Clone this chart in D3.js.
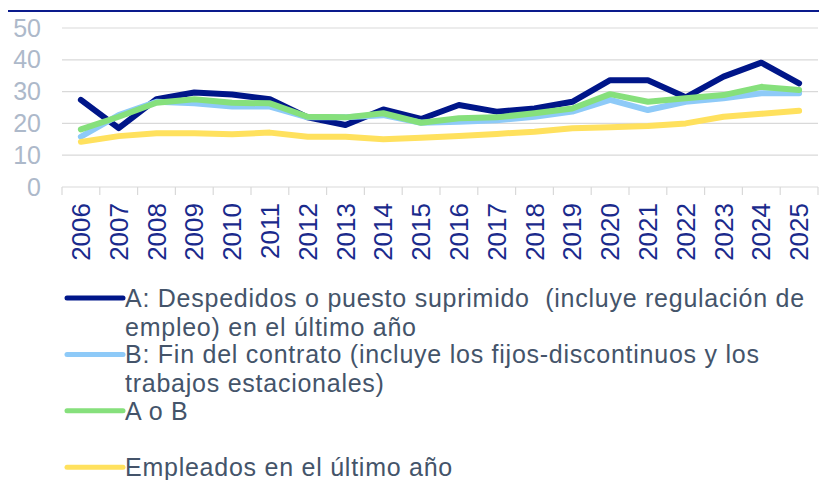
<!DOCTYPE html>
<html>
<head>
<meta charset="utf-8">
<script src="https://cdn.jsdelivr.net/npm/d3@7"></script>
<style>
	body { margin: 0; background: #fff; }
	text { font-family: 'Liberation Sans', Arial, sans-serif; }
</style>
</head>
<body>
<div id="linechart"></div>
<script>
var years = ['2006', '2007', '2008', '2009', '2010', '2011', '2012', '2013', '2014', '2015',
	'2016', '2017', '2018', '2019', '2020', '2021', '2022', '2023', '2024', '2025'];

var despedidos = [27.4, 18.5, 27.6, 29.7, 29.1, 27.6, 21.9, 19.5, 24.4, 21.4,
	25.8, 23.7, 24.7, 26.8, 33.6, 33.6, 28.2, 34.7, 39.1, 32.6];
var finContrato = [15.8, 22.6, 26.8, 26.3, 25.3, 25.3, 21.9, 21.9, 22.6, 20.2,
	20.5, 21.0, 22.1, 23.7, 27.4, 24.2, 26.8, 27.9, 29.5, 29.5];
var aoB = [18.1, 22.1, 26.5, 27.6, 26.5, 26.3, 22.1, 21.9, 23.2, 20.2,
	21.6, 21.9, 23.2, 24.7, 29.2, 26.8, 27.9, 28.9, 31.5, 30.5];
var empleados = [14.2, 16.0, 16.9, 16.9, 16.6, 17.1, 15.8, 15.8, 15.0, 15.5,
	16.0, 16.7, 17.4, 18.5, 18.8, 19.2, 20.0, 22.1, 23.0, 24.0];

var yTicks = [0, 10, 20, 30, 40, 50];

var seriesNames = [
	'A: Despedidos o puesto suprimido  (incluye regulación de empleo) en el último año',
	'B: Fin del contrato (incluye los fijos-discontinuos y los trabajos estacionales)',
	'A o B',
	'Empleados en el último año'
];
var seriesValues = [despedidos, finContrato, aoB, empleados];

var color = d3.scaleOrdinal()
	.domain(seriesNames)
	.range(['#001689', '#8ecaf8', '#86e07c', '#ffe15e']);

var svg = d3.select('#linechart').append('svg').attr('width', 819).attr('height', 480);

// top rule
svg.append('line')
	.attr('x1', 8).attr('x2', 819)
	.attr('y1', 11).attr('y2', 11)
	.attr('stroke', '#0a1a8c')
	.attr('stroke-width', 2);

var xScale = d3.scaleBand()
	.domain(years)
	.range([62, 818]);

var yScale = d3.scaleLinear()
	.domain([0, 50])
	.range([187, 28]);

// gridlines
svg.append('g')
	.selectAll('line')
	.data(yTicks.slice(1))
	.enter().append('line')
	.attr('x1', 62).attr('x2', 818)
	.attr('y1', function(d) { return yScale(d); })
	.attr('y2', function(d) { return yScale(d); })
	.attr('stroke', '#d9d9d9')
	.attr('stroke-width', 1.2);

var yAxis = d3.axisLeft(yScale).tickValues(yTicks).tickSize(0).tickPadding(0);
var yAxisG = svg.append('g')
	.attr('transform', 'translate(41,0)')
	.call(yAxis);
yAxisG.select('.domain').remove();
yAxisG.selectAll('text')
	.attr('font-size', 25)
	.attr('fill', '#adb9ca')
	.style('font-family', "'Liberation Sans', Arial, sans-serif");

// x axis: line + ticks at category boundaries
var xAxisG = svg.append('g');
xAxisG.append('line')
	.attr('x1', 62).attr('x2', 818)
	.attr('y1', 187).attr('y2', 187)
	.attr('stroke', '#d9d9d9')
	.attr('stroke-width', 1.2);
xAxisG.selectAll('.tick')
	.data(years.concat(['end']))
	.enter().append('line')
	.attr('x1', function(d, i) { return i < years.length ? xScale(d) : xScale.range()[1]; })
	.attr('x2', function(d, i) { return i < years.length ? xScale(d) : xScale.range()[1]; })
	.attr('y1', 187).attr('y2', 195)
	.attr('stroke', '#d9d9d9')
	.attr('stroke-width', 1.2);

xAxisG.selectAll('.lbl')
	.data(years)
	.enter().append('text')
	.attr('transform', function(d) {
		return 'translate(' + (xScale(d) + xScale.bandwidth() / 2) + ',203) rotate(-90)';
	})
	.attr('text-anchor', 'end')
	.attr('dy', '0.35em')
	.attr('font-size', 26)
	.attr('fill', '#1a2a8c')
	.text(function(d) { return d; });

var line = d3.line()
	.x(function(d, i) { return xScale(years[i]) + xScale.bandwidth() / 2; })
	.y(function(d) { return yScale(d); });

seriesNames.forEach(function(name, k) {
	svg.append('path')
		.attr('d', line(seriesValues[k]))
		.attr('fill', 'none')
		.attr('stroke', color(name))
		.attr('stroke-width', 6)
		.attr('stroke-linejoin', 'round')
		.attr('stroke-linecap', 'round');
});

// legend
var legend = svg.append('g');
var maxRight = 818;

seriesNames.forEach(function(name, k) {
	var y0 = 298 + k * 56.4;
	legend.append('line')
		.attr('x1', 67).attr('x2', 123)
		.attr('y1', y0).attr('y2', y0)
		.attr('stroke', color(name))
		.attr('stroke-width', 5)
		.attr('stroke-linecap', 'round');

	var t = legend.append('text')
		.attr('x', 125)
		.attr('y', y0)
		.attr('font-size', 25)
		.attr('letter-spacing', 0.75)
		.attr('fill', '#44546a')
		.style('white-space', 'pre');

	// simple word wrap
	var words = name.split(' ');
	var lineNo = 0;
	var current = [];
	var tspan = t.append('tspan').attr('x', 125).attr('y', y0).attr('dy', '0.35em');
	words.forEach(function(w) {
		current.push(w);
		tspan.text(current.join(' '));
		if (tspan.node().getComputedTextLength() > maxRight - 125 && current.length > 1) {
			current.pop();
			tspan.text(current.join(' '));
			current = [w];
			lineNo++;
			tspan = t.append('tspan')
				.attr('x', 125)
				.attr('y', y0 + lineNo * 29)
				.attr('dy', '0.35em')
				.text(w);
		}
	});
});
</script>
</body>
</html>
